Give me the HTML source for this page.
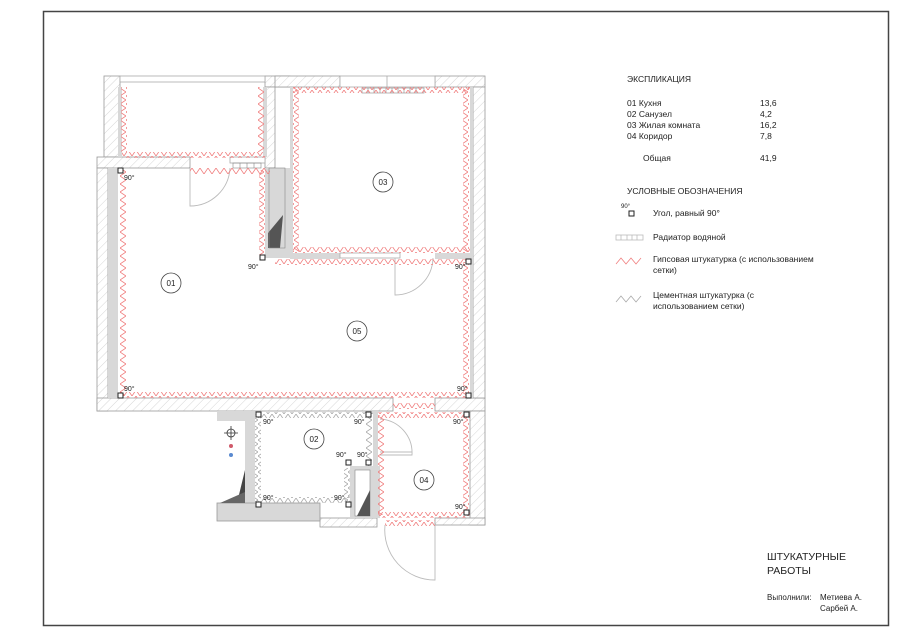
<!DOCTYPE html>
<html><head><meta charset="utf-8"><style>
html,body{margin:0;padding:0;background:#fff}
svg{display:block}
text{font-family:"Liberation Sans","DejaVu Sans",sans-serif;fill:#222}
</style></head><body>
<svg width="900" height="636" viewBox="0 0 900 636" xmlns="http://www.w3.org/2000/svg">
<defs>
<pattern id="hat" patternUnits="userSpaceOnUse" width="6" height="6" patternTransform="rotate(45)">
<rect width="6" height="6" fill="#fff"/><line x1="0" y1="0" x2="0" y2="6" stroke="#ccc" stroke-width="0.8"/></pattern>
<pattern id="rh" patternUnits="userSpaceOnUse" width="8" height="6"><path d="M0,0 L4,6 L8,0" fill="none" stroke="#f08080" stroke-width="0.8"/></pattern>
<pattern id="rv" patternUnits="userSpaceOnUse" width="6" height="8"><path d="M0,0 L6,4 L0,8" fill="none" stroke="#f08080" stroke-width="0.8"/></pattern>
<pattern id="gh" patternUnits="userSpaceOnUse" width="8" height="6"><path d="M0,0 L4,6 L8,0" fill="none" stroke="#aaa" stroke-width="0.8"/></pattern>
<pattern id="gv" patternUnits="userSpaceOnUse" width="6" height="8"><path d="M0,0 L6,4 L0,8" fill="none" stroke="#aaa" stroke-width="0.8"/></pattern>
</defs>
<rect x="43.5" y="11.5" width="845" height="614" fill="none" stroke="#444" stroke-width="1.5"/>

<g stroke="#999" stroke-width="0.8" fill="url(#hat)">
<rect x="104" y="76" width="16" height="81"/>
<rect x="97" y="157" width="93" height="11"/>
<rect x="97" y="168" width="11" height="243"/>
<rect x="97" y="398" width="296" height="13"/>
<rect x="435" y="398" width="50" height="13"/>
<rect x="265" y="76" width="25" height="11"/>
<rect x="265" y="87" width="10" height="81"/>
<rect x="275" y="76" width="65" height="11"/>
<rect x="435" y="76" width="50" height="11"/>
<rect x="473" y="87" width="12" height="311"/>
<rect x="470" y="411" width="15" height="114"/>
<rect x="320" y="518" width="57" height="9"/>
<rect x="435" y="518" width="50" height="7"/>
</g>
<g fill="#d8d8d8">
<rect x="108" y="168" width="10" height="230"/>
<rect x="118" y="87" width="4" height="70"/>
<rect x="263" y="87" width="4" height="70"/>
<rect x="265" y="168" width="27" height="90"/>
<rect x="290" y="87" width="3" height="166"/>
<rect x="290" y="253" width="50" height="6"/>
<rect x="435" y="253" width="38" height="6"/>
<rect x="470" y="87" width="3" height="311"/>
<rect x="217" y="503" width="103" height="18"/>
<rect x="245" y="411" width="10" height="92"/>
<rect x="350" y="466" width="30" height="52"/>
<rect x="373" y="411" width="5" height="55"/>
<rect x="217" y="411" width="28" height="10"/>
</g>
<rect x="217" y="503" width="103" height="18" fill="none" stroke="#999" stroke-width="0.8"/>
<polygon points="268,233 268,248 280,248 283,215" fill="#555"/>
<rect x="269" y="168" width="16" height="80" fill="none" stroke="#888" stroke-width="0.6"/>
<polygon points="220,503 245,503 245,470 237,503" fill="#444"/>
<polygon points="220,503 245,492 245,503" fill="#666"/>
<rect x="355" y="470" width="15" height="46" fill="#fff" stroke="#888" stroke-width="0.6"/>
<polygon points="357,516 370,516 370,490" fill="#555"/>
<g stroke="#aaa" stroke-width="0.8" fill="#fff">
<rect x="120" y="76" width="145" height="6"/>
<rect x="340" y="76" width="95" height="11"/>
<line x1="387" y1="76" x2="387" y2="87"/>
<rect x="230" y="157" width="35" height="6"/>
<rect x="340" y="253" width="60" height="5"/>
</g>
<g stroke="#888" stroke-width="0.6" fill="none">
<rect x="362" y="88" width="62" height="5"/>
<path d="M368,88v5M374,88v5M380,88v5M386,88v5M392,88v5M398,88v5M404,88v5M410,88v5M416,88v5"/>
<rect x="233" y="163" width="28" height="5"/>
<path d="M240,163v5M247,163v5M254,163v5"/>
</g>
<g stroke="#bbb" stroke-width="0.9" fill="none">
<path d="M190,168 V206 A40,40 0 0 0 230,168"/>
<path d="M395,258 V295 A38,38 0 0 0 433,258"/>
<path d="M380,455 H412 A34,34 0 0 0 380,419"/>
<line x1="380" y1="452" x2="412" y2="452"/>
<path d="M435,525 V580 A50,50 0 0 1 385,525"/>
</g>
<g fill="url(#rh)">
<rect x="122" y="152" width="143" height="6"/>
<rect x="190" y="168" width="80" height="6"/>
<rect x="293" y="87" width="177" height="6"/>
<rect x="293" y="247" width="177" height="6"/>
<rect x="275" y="259" width="195" height="6"/>
<rect x="120" y="392" width="350" height="6"/>
<rect x="393" y="403" width="42" height="6"/>
<rect x="378" y="412" width="92" height="6"/>
<rect x="378" y="512" width="92" height="6"/>
<rect x="385" y="520" width="50" height="6"/>
</g>
<g fill="url(#rv)">
<rect x="121" y="87" width="6" height="65"/>
<rect x="258" y="87" width="6" height="65"/>
<rect x="120" y="170" width="6" height="225"/>
<rect x="259" y="170" width="6" height="85"/>
<rect x="293" y="87" width="6" height="165"/>
<rect x="463" y="87" width="6" height="165"/>
<rect x="463" y="262" width="6" height="133"/>
<rect x="378" y="415" width="6" height="100"/>
<rect x="463" y="415" width="6" height="100"/>
</g>
<g fill="url(#gh)">
<rect x="257" y="412" width="116" height="6"/>
<rect x="257" y="497" width="93" height="6"/>
</g>
<g fill="url(#gv)">
<rect x="255" y="414" width="6" height="88"/>
<rect x="366" y="414" width="6" height="52"/>
<rect x="344" y="468" width="6" height="34"/>
</g>
<g fill="#fff" stroke="#222" stroke-width="1">
<rect x="118" y="168" width="5" height="5"/><rect x="118" y="393" width="5" height="5"/>
<rect x="260" y="255" width="5" height="5"/><rect x="466" y="259" width="5" height="5"/>
<rect x="466" y="393" width="5" height="5"/><rect x="256" y="412" width="5" height="5"/>
<rect x="366" y="412" width="5" height="5"/><rect x="464" y="412" width="5" height="5"/>
<rect x="346" y="460" width="5" height="5"/><rect x="366" y="460" width="5" height="5"/>
<rect x="256" y="502" width="5" height="5"/><rect x="346" y="502" width="5" height="5"/>
<rect x="464" y="510" width="5" height="5"/>
</g>
<g font-size="7">
<text x="124" y="180">90°</text><text x="124" y="391">90°</text>
<text x="248" y="269">90°</text><text x="455" y="269">90°</text>
<text x="457" y="391">90°</text><text x="263" y="424">90°</text>
<text x="354" y="424">90°</text><text x="453" y="424">90°</text>
<text x="336" y="457">90°</text><text x="357" y="457">90°</text>
<text x="263" y="500">90°</text><text x="334" y="500">90°</text>
<text x="455" y="509">90°</text>
</g>
<g fill="#fff" stroke="#444" stroke-width="0.8">
<circle cx="171" cy="283" r="10"/><circle cx="357" cy="331" r="10"/>
<circle cx="383" cy="182" r="10"/><circle cx="314" cy="439" r="10"/>
<circle cx="424" cy="480" r="10"/>
</g>
<g font-size="8" text-anchor="middle">
<text x="171" y="286">01</text><text x="357" y="334">05</text>
<text x="383" y="185">03</text><text x="314" y="442">02</text><text x="424" y="483">04</text>
</g>
<circle cx="231" cy="433" r="4" fill="none" stroke="#333" stroke-width="0.8"/>
<path d="M224,433h14M231,426v14" stroke="#333" stroke-width="0.8"/>
<circle cx="231" cy="446" r="2" fill="#d05a6a"/>
<circle cx="231" cy="455" r="2" fill="#5a8ad0"/>

<g font-size="8.5">
<text x="627" y="82">ЭКСПЛИКАЦИЯ</text>
<text x="627" y="106">01 Кухня</text><text x="760" y="106">13,6</text>
<text x="627" y="117">02 Санузел</text><text x="760" y="117">4,2</text>
<text x="627" y="128">03 Жилая комната</text><text x="760" y="128">16,2</text>
<text x="627" y="139">04 Коридор</text><text x="760" y="139">7,8</text>
<text x="643" y="161">Общая</text><text x="760" y="161">41,9</text>
<text x="627" y="194">УСЛОВНЫЕ ОБОЗНАЧЕНИЯ</text>
<text x="653" y="216">Угол, равный 90°</text>
<text x="653" y="240">Радиатор водяной</text>
<text x="653" y="262">Гипсовая штукатурка (с использованием</text>
<text x="653" y="273">сетки)</text>
<text x="653" y="298">Цементная штукатурка (с</text>
<text x="653" y="309">использованием сетки)</text>
</g>
<text x="621" y="208" font-size="6">90°</text>
<rect x="629" y="211" width="5" height="5" fill="#fff" stroke="#222"/>
<g stroke="#bbb" fill="none" stroke-width="0.8"><rect x="616" y="235" width="27" height="5"/><path d="M621,235v5M627,235v5M632,235v5M637,235v5"/></g>
<path d="M616,264 L621,258 L626,264 L631,258 L636,264 L641,258" fill="none" stroke="#f08080" stroke-width="0.8"/>
<path d="M616,302 L621,296 L626,302 L631,296 L636,302 L641,296" fill="none" stroke="#aaa" stroke-width="0.8"/>
<text x="767" y="560" font-size="10.5">ШТУКАТУРНЫЕ</text>
<text x="767" y="574" font-size="10.5">РАБОТЫ</text>
<text x="767" y="600" font-size="8">Выполнили:</text>
<text x="820" y="600" font-size="8">Метиева А.</text>
<text x="820" y="611" font-size="8">Сарбей А.</text>
</svg>
</body></html>
